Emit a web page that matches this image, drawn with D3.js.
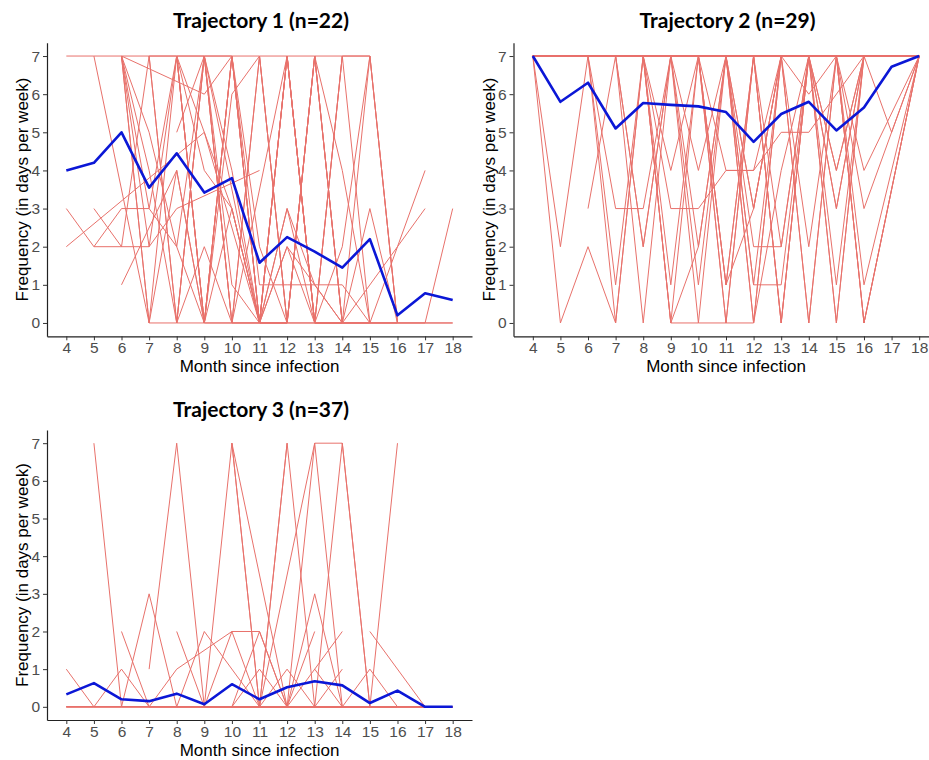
<!DOCTYPE html>
<html>
<head>
<meta charset="utf-8">
<script src="https://cdn.jsdelivr.net/npm/d3@7"></script>
<style>
  body { margin: 0; background: #fff; }
  svg { display: block; }
</style>
</head>
<body>
<svg width="929" height="760"></svg>
<script>
document.addEventListener('DOMContentLoaded', () => {
    const _ = null;

    // months since infection (x ticks)
    const months = [4, 5, 6, 7, 8, 9, 10, 11, 12, 13, 14, 15, 16, 17, 18];
    const freqTicks = [0, 1, 2, 3, 4, 5, 6, 7];

    const titles = ["Trajectory 1 (n=22)", "Trajectory 2 (n=29)", "Trajectory 3 (n=37)"];

    // group means (blue line)
    const mean1 = [4.0, 4.2, 5.0, 3.55, 4.45, 3.42, 3.8, 1.58, 2.25, 1.87, 1.45, 2.2, 0.2, 0.78, 0.6];
    const mean2 = [7.0, 5.8, 6.3, 5.1, 5.77, 5.72, 5.68, 5.53, 4.75, 5.48, 5.8, 5.05, 5.65, 6.72, 7.0];
    const mean3 = [0.33, 0.63, 0.2, 0.15, 0.35, 0.07, 0.6, 0.2, 0.52, 0.68, 0.57, 0.1, 0.43, 0.0, 0.0];

    // individual trajectories, one row per person, months 4..18 (null = not observed)
    const people1 = [
        [7,7,7,7,7,7,7,7,7,7,7,7,0,_,_],
        [3,2,2,2,3,_,_,4,_,_,_,_,_,_,_],
        [2,_,_,_,_,5,_,0,0,0,0,0,0,0,0],
        [_,3,2,7,0,7,0,7,0,7,0,3,0,_,_],
        [_,2,3,3,2,0,7,0,3,1,0,_,_,_,_],
        [_,7,_,0,0,0,0,0,0,0,0,0,0,0,0],
        [_,_,1,_,4,0,7,0,7,0,7,0,2,4,_],
        [_,_,7,_,_,6,7,1,1,1,1,0,_,_,_],
        [_,_,7,0,7,0,7,0,7,0,7,7,_,_,_],
        [_,_,7,5,2,7,0,0,3,0,0,7,0,_,_],
        [_,_,7,3,7,0,6,7,0,7,0,_,_,_,_],
        [_,_,_,7,0,7,4,0,7,0,0,0,_,_,_],
        [_,_,_,_,7,0,7,2,0,7,0,_,2,3,_],
        [_,_,_,_,5,7,0,0,2,1,0,_,_,_,_],
        [_,_,_,_,7,5,3,0,0,_,_,_,_,_,_],
        [_,_,_,_,_,7,1,0,7,0,0,_,_,_,_],
        [_,_,7,0,4,0,0,7,0,7,4,0,0,_,_],
        [_,_,7,4,0,2,0,_,7,0,7,_,_,_,_],
        [_,_,_,7,7,0,3,0,7,0,2,7,0,_,_],
        [_,_,_,_,0,7,7,0,0,7,0,_,0,0,3],
        [_,_,7,2,7,4,3,0,0,_,_,_,_,_,_],
        [_,_,_,_,7,7,_,0,2,0,0,0,_,_,_]
    ];

    const people2 = [
        [7,7,7,7,7,7,7,7,7,7,7,7,7,7,7],
        [7,2,7,3,3,7,7,7,1,7,7,7,7,7,7],
        [7,0,2,0,7,0,0,0,0,7,0,7,0,_,7],
        [_,_,3,7,2,7,7,1,7,7,7,3,7,_,7],
        [7,7,7,1,7,4,7,7,3,7,7,7,7,5,7],
        [7,7,7,0,7,0,2,7,7,0,7,7,1,_,7],
        [7,7,7,7,0,7,7,0,7,7,2,7,7,_,7],
        [7,7,7,7,7,3,3,4,4,5,5,_,7,_,7],
        [7,7,7,7,7,7,1,7,0,7,7,1,7,_,7],
        [7,7,7,7,7,7,7,7,2,2,7,7,7,_,7],
        [7,7,7,7,7,7,7,7,1,1,7,4,7,_,7],
        [7,7,7,7,7,7,4,7,0,4,7,7,3,_,7],
        [7,7,7,7,2,7,7,0,7,7,0,7,4,_,7],
        [7,7,7,7,7,7,7,7,7,7,7,0,7,_,7],
        [7,7,7,7,7,7,7,7,7,7,7,7,0,_,7],
        [7,7,7,7,7,7,7,4,4,7,7,7,7,7,7],
        [7,7,7,7,7,7,0,7,7,0,7,7,7,7,7],
        [7,7,7,7,7,1,7,7,7,7,7,7,7,_,7],
        [7,7,7,7,7,7,7,1,3,7,7,3,7,_,7],
        [7,7,7,7,7,7,7,7,7,2,7,7,7,_,7],
        [7,_,7,7,7,7,7,7,7,7,7,4,7,_,7],
        [7,_,7,7,7,7,7,7,3,7,7,7,7,7,7],
        [7,_,7,7,7,7,2,7,7,7,7,7,7,_,7],
        [7,_,7,7,7,7,7,7,7,0,7,7,0,_,7],
        [7,_,7,7,7,0,7,7,7,7,7,7,7,_,7],
        [7,_,7,7,7,7,7,7,7,7,7,0,7,_,7],
        [7,_,7,7,7,7,7,7,7,7,6,7,7,7,7],
        [7,_,7,7,7,7,7,1,7,7,7,7,7,_,7],
        [7,_,7,7,7,7,7,7,7,7,7,7,7,_,7]
    ];

    const people3 = [
        [0,0,0,0,0,0,0,0,0,0,0,0,0,0,0],
        [1,0,0,0,0,0,0,0,0,0,0,0,0,0,0],
        [_,7,0,0,0,0,0,0,0,0,0,0,0,0,0],
        [_,0,1,0,0,0,0,0,0,0,0,0,0,0,0],
        [_,_,2,0,0,0,0,0,_,_,_,_,_,_,_],
        [_,_,0,3,0,0,0,0,0,_,_,_,_,_,_],
        [_,_,_,1,7,0,0,0,0,0,0,0,0,_,_],
        [_,_,_,0,1,_,2,2,0,0,0,_,_,_,_],
        [_,_,_,_,2,0,0,0,0,0,0,0,0,0,0],
        [_,_,_,_,0,2,_,0,0,0,0,0,_,_,_],
        [_,_,_,_,_,0,7,0,0,0,0,0,0,_,_],
        [_,_,_,_,_,_,7,_,0,0,0,_,_,_,_],
        [_,_,_,_,_,_,_,0,7,0,0,0,_,_,_],
        [_,_,_,_,_,_,_,_,0,7,7,0,7,_,_],
        [_,_,_,_,_,_,_,0,_,7,0,_,_,_,_],
        [_,_,_,_,_,_,_,_,_,0,7,0,0,0,0],
        [_,_,_,_,_,_,_,_,0,_,2,_,_,_,_],
        [_,_,_,_,_,_,_,_,0,3,0,_,_,_,_],
        [_,_,_,_,_,_,_,_,_,_,_,2,_,0,_],
        [_,_,_,_,_,0,2,0,_,_,_,_,_,_,_],
        [_,_,_,_,_,_,0,1,0,_,_,_,_,_,_],
        [_,_,_,_,_,_,_,_,0,2,_,_,_,_,_],
        [_,_,_,_,_,_,_,_,_,0,1,_,_,_,_],
        [_,_,_,_,_,_,0,2,0,_,_,_,_,_,_],
        [_,_,_,_,_,_,_,0,1,0,_,_,_,_,_],
        [0,0,0,_,_,_,_,_,_,_,_,_,_,_,_],
        [0,0,0,0,0,0,0,0,_,_,_,_,_,_,_],
        [_,_,_,_,_,_,_,0,0,0,0,0,0,0,0],
        [_,_,_,_,0,0,_,0,7,_,_,_,_,_,_],
        [_,_,_,_,_,_,_,_,_,1,0,0,_,_,_],
        [0,0,0,0,0,_,_,_,_,_,_,_,_,_,_],
        [_,_,_,_,_,_,_,_,_,_,0,0,0,0,0],
        [_,_,_,_,_,_,0,0,0,0,0,_,_,_,_],
        [_,_,_,_,_,_,_,_,_,_,_,0,0,0,0],
        [0,0,_,_,_,_,_,_,_,_,_,_,_,_,_],
        [_,_,_,_,_,_,7,0,0,_,_,_,_,_,_],
        [_,_,_,_,_,_,_,_,_,_,0,1,0,_,_]
    ];

    const svg = d3.select("svg");
    const bodyFont = "'Liberation Sans', Arial, Helvetica, sans-serif";

    const panels = [
        { title: titles[0], people: people1, mean: mean1, left: 47, top: 42.7, width: 425, height: 293.6, titleY: 28, xTitleY: 372 },
        { title: titles[1], people: people2, mean: mean2, left: 513.5, top: 42.7, width: 425, height: 293.6, titleY: 28, xTitleY: 372 },
        { title: titles[2], people: people3, mean: mean3, left: 47, top: 430, width: 425, height: 290, titleY: 417, xTitleY: 756 }
    ];

    panels.forEach(p => {
        // ggplot style 5% expansion on both axes
        const x = d3.scaleLinear().domain([3.3, 18.7]).range([p.left, p.left + p.width]);
        const y = d3.scaleLinear().domain([-0.35, 7.35]).range([p.top + p.height, p.top]);

        const g = svg.append("g");

        const line = d3.line()
            .x(d => x(d.m))
            .y(d => y(d.v));

        // one red line per person, joining the months that were observed
        p.people.forEach(row => {
            const pts = months.map((m, i) => ({ m: m, v: row[i] })).filter(d => d.v !== null);
            if (pts.length < 2) return;
            g.append("path")
                .datum(pts)
                .attr("fill", "none")
                .attr("stroke", "#e8716b")
                .attr("stroke-width", 1)
                .attr("d", line);
        });

        // group mean
        g.append("path")
            .datum(months.map((m, i) => ({ m: m, v: p.mean[i] })))
            .attr("fill", "none")
            .attr("stroke", "#0b17d6")
            .attr("stroke-width", 2.6)
            .attr("stroke-linejoin", "round")
            .attr("d", line);

        // axes
        const xAxis = g.append("g")
            .attr("transform", `translate(0, ${p.top + p.height})`)
            .call(d3.axisBottom(x).tickValues(months).tickSize(4).tickPadding(2).tickSizeOuter(0));
        const yAxis = g.append("g")
            .attr("transform", `translate(${p.left}, 0)`)
            .call(d3.axisLeft(y).tickValues(freqTicks).tickSize(4).tickPadding(3).tickSizeOuter(0));

        [xAxis, yAxis].forEach(a => {
            a.attr("font-family", bodyFont).attr("font-size", 15.5);
            a.select(".domain").attr("stroke", "#222").attr("stroke-width", 1.2);
            a.selectAll(".tick line").attr("stroke", "#333").attr("stroke-width", 1);
            a.selectAll(".tick text").attr("fill", "#4d4d4d");
        });

        // axis titles
        g.append("text")
            .attr("x", p.left + p.width / 2)
            .attr("y", p.xTitleY)
            .attr("text-anchor", "middle")
            .attr("font-family", bodyFont)
            .attr("font-size", 17)
            .text("Month since infection");

        g.append("text")
            .attr("transform", `translate(${p.left - 19}, ${p.top + p.height / 2}) rotate(-90)`)
            .attr("text-anchor", "middle")
            .attr("font-family", bodyFont)
            .attr("font-size", 17)
            .text("Frequency (in days per week)");

        // panel title
        g.append("text")
            .attr("x", p.left + p.width / 2 + 1.5)
            .attr("y", p.titleY)
            .attr("text-anchor", "middle")
            .attr("font-family", "Lato, 'Open Sans', sans-serif")
            .attr("font-weight", "bold")
            .attr("font-size", 21)
            .text(p.title);
    });
});
</script>
</body>
</html>
